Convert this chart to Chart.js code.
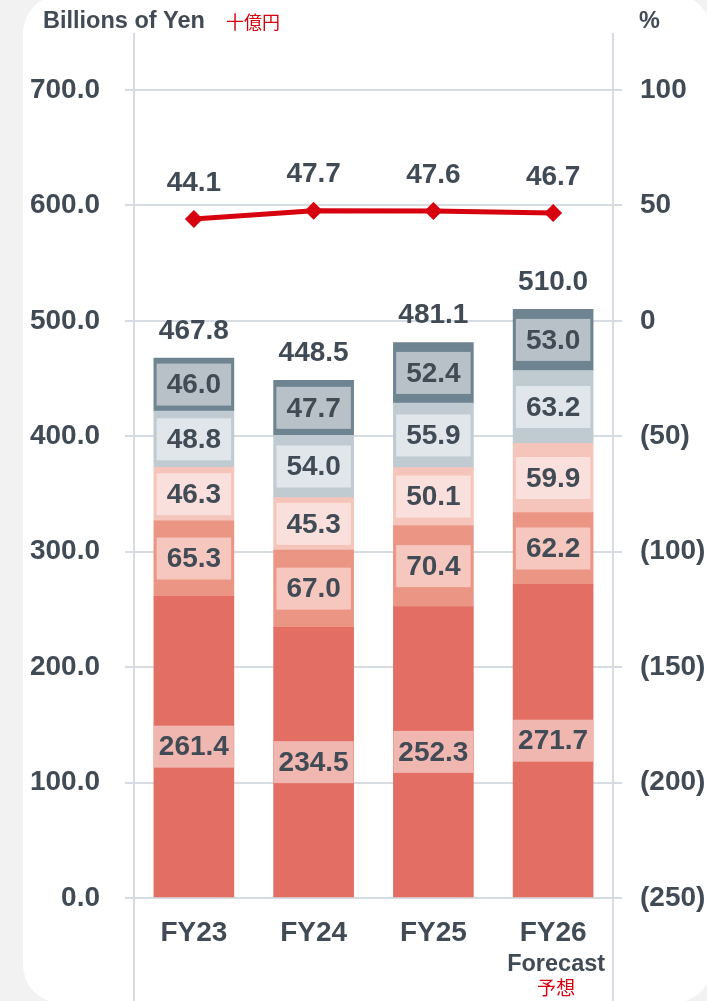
<!DOCTYPE html>
<html>
<head>
<meta charset="utf-8">
<script src="https://cdn.jsdelivr.net/npm/chart.js@4.4.1/dist/chart.umd.min.js"></script>
<style>
  html, body { margin: 0; padding: 0; background: #f2f2f2; width: 707px; height: 1001px; overflow: hidden; }
  #card { position: absolute; left: 23px; top: -5px; width: 689px; height: 1008px; background: #ffffff; border-radius: 38px; }
  #wrap { position: absolute; left: 0; top: 0; width: 707px; height: 1001px; }
</style>
</head>
<body>
<div id="card"></div>
<div id="wrap"><canvas id="c" width="707" height="1001"></canvas></div>
<script>
const categories = ['FY23', 'FY24', 'FY25', 'FY26'];
const seg1 = [261.4, 234.5, 252.3, 271.7];
const seg2 = [65.3, 67.0, 70.4, 62.2];
const seg3 = [46.3, 45.3, 50.1, 59.9];
const seg4 = [48.8, 54.0, 55.9, 63.2];
const seg5 = [46.0, 47.7, 52.4, 53.0];
const totals = [467.8, 448.5, 481.1, 510.0];
const ratio = [44.1, 47.7, 47.6, 46.7];
const leftTicks = [0, 100, 200, 300, 400, 500, 600, 700];
const rightTicks = [-250, -200, -150, -100, -50, 0, 50, 100];

const TEXT = '#414b55';
const RED = '#d7000f';
const FONT = '"Liberation Sans", Arial, sans-serif';
const CJK = '"Noto Sans CJK JP", sans-serif';
const GRID = '#d6dce1';

const segColors = ['#e36f64', '#eb9585', '#f5c5bb', '#bfcbd1', '#6e8491'];
const boxColors = ['#f0b6b0', '#f5c7bf', '#fae0dc', '#e0e6ea', '#b8c1c8'];

const labelPlugin = {
  id: 'labels',
  beforeDraw(chart) {
    const ctx = chart.ctx;
    const ca = chart.chartArea;
    ctx.save();
    ctx.strokeStyle = GRID;
    ctx.lineWidth = 2;
    [ca.left, ca.right].forEach(x => {
      ctx.beginPath();
      ctx.moveTo(x, 33);
      ctx.lineTo(x, 1001);
      ctx.stroke();
    });
    ctx.restore();
  },
  afterDatasetsDraw(chart) {
    const ctx = chart.ctx;
    ctx.save();
    ctx.textAlign = 'center';
    ctx.textBaseline = 'middle';
    ctx.font = 'bold 28px ' + FONT;
    for (let d = 0; d < 5; d++) {
      const meta = chart.getDatasetMeta(d);
      const vals = chart.data.datasets[d].data;
      meta.data.forEach((el, i) => {
        const p = el.getProps(['x', 'y', 'base', 'width'], true);
        const cy = (p.y + p.base) / 2;
        const txt = vals[i].toFixed(1);
        const tw = ctx.measureText(txt).width;
        const bw = Math.min(tw + 20, p.width);
        ctx.fillStyle = boxColors[d];
        ctx.fillRect(p.x - bw / 2, cy - 21, bw, 42);
        ctx.fillStyle = TEXT;
        ctx.fillText(txt, p.x, cy + 1);
      });
    }
    const top = chart.getDatasetMeta(4);
    top.data.forEach((el, i) => {
      const p = el.getProps(['x', 'y'], true);
      ctx.fillStyle = TEXT;
      ctx.fillText(totals[i].toFixed(1), p.x, p.y - 27);
    });
    const lm = chart.getDatasetMeta(5);
    lm.data.forEach((el, i) => {
      const p = el.getProps(['x', 'y'], true);
      ctx.fillStyle = TEXT;
      ctx.fillText(ratio[i].toFixed(1), p.x, p.y - 36);
    });
    ctx.textAlign = 'left';
    ctx.font = 'bold 23.5px ' + FONT;
    ctx.fillText('Billions of Yen', 43, 22);
    ctx.fillText('%', 639, 22);
    ctx.fillStyle = RED;
    ctx.font = '18px ' + CJK;
    ctx.fillText('十億円', 226, 22);
    const xs = chart.scales.x;
    const fx = xs.getPixelForValue(3);
    ctx.textAlign = 'center';
    ctx.fillStyle = TEXT;
    ctx.font = 'bold 23.5px ' + FONT;
    ctx.fillText('Forecast', fx + 3, 965);
    ctx.fillStyle = RED;
    ctx.font = '19px ' + CJK;
    ctx.fillText('予想', fx + 3, 988);
    ctx.restore();
  }
};

const barDs = [seg1, seg2, seg3, seg4, seg5].map((arr, i) => ({
  type: 'bar',
  label: 'S' + (i + 1),
  data: arr,
  backgroundColor: segColors[i],
  borderWidth: 0,
  barThickness: 80,
  yAxisID: 'y',
  stack: 's',
  order: 2
}));

new Chart(document.getElementById('c'), {
  data: {
    labels: categories,
    datasets: [...barDs, {
      type: 'line',
      label: 'ratio',
      data: ratio,
      yAxisID: 'y1',
      borderColor: RED,
      backgroundColor: RED,
      borderWidth: 5,
      pointStyle: 'rectRot',
      pointRadius: 9,
      pointBorderWidth: 0,
      pointBackgroundColor: RED,
      tension: 0,
      order: 1
    }]
  },
  options: {
    responsive: false,
    animation: false,
    events: [],
    layout: { padding: { top: 90, left: 0, right: 0, bottom: 0 } },
    plugins: { legend: { display: false }, tooltip: { enabled: false } },
    scales: {
      x: {
        stacked: true,
        grid: { display: false, drawTicks: false },
        border: { display: false },
        ticks: { color: TEXT, font: { family: FONT, size: 28, weight: 'bold' }, padding: 18 },
        afterFit(s) { s.height = 103; }
      },
      y: {
        stacked: true,
        position: 'left',
        min: 0, max: 700,
        afterBuildTicks(s) { s.ticks = leftTicks.map(v => ({ value: v })); },
        grid: { color: GRID, lineWidth: 2, tickLength: 9 },
        border: { display: false },
        ticks: { color: TEXT, font: { family: FONT, size: 28, weight: 'bold' }, padding: 25,
          callback: v => Number(v).toFixed(1) },
        afterFit(s) { s.width = 134; }
      },
      y1: {
        position: 'right',
        min: -250, max: 100,
        afterBuildTicks(s) { s.ticks = rightTicks.map(v => ({ value: v })); },
        grid: { color: GRID, lineWidth: 2, tickLength: 9, drawOnChartArea: false },
        border: { display: false },
        ticks: { color: TEXT, font: { family: FONT, size: 28, weight: 'bold' }, padding: 18,
          callback: v => v < 0 ? '(' + Math.abs(v) + ')' : String(v) },
        afterFit(s) { s.width = 94; }
      }
    }
  },
  plugins: [labelPlugin]
});
</script>
</body>
</html>
